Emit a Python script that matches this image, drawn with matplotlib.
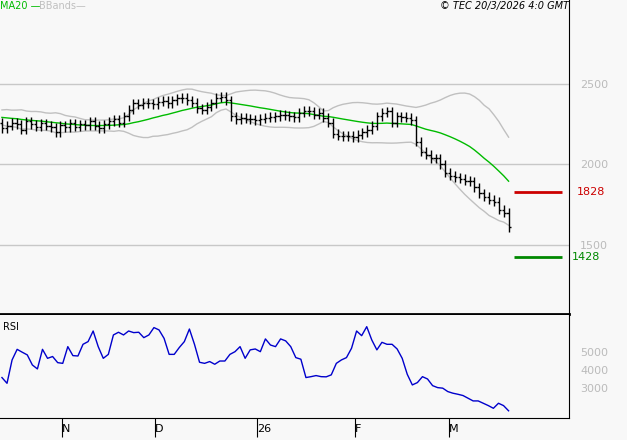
import numpy as np
import matplotlib
matplotlib.use("Agg")
import matplotlib.pyplot as plt

warmup = [2300,2320,2290,2310,2330,2305,2280,2295,2315,2290,2270,2300,2320,2295,2280,2300,2290,2275,2260]
closes = [2225,2240,2260,2250,2215,2270,2250,2235,2255,2240,2230,2200,
          2245,2230,2255,2235,2250,2245,2270,2240,2225,2250,2270,2280,2260,2300,2340,2380,2370,2385,2380,
          2375,2390,2395,2380,2400,2410,2415,2400,2385,2350,2340,2360,2380,2415,2420,2400,2300,2280,2290,2285,2280,
          2275,2285,2290,2295,2300,2310,2305,2300,2295,2320,2335,2330,2310,2320,2290,2260,2190,2180,2175,2180,
          2170,2185,2200,2215,2240,2300,2320,2330,2260,2300,2295,2290,2275,2140,2080,2060,2040,2040,2000,
          1950,1930,1920,1910,1900,1895,1860,1820,1800,1780,1770,1720,1700,1610]
rsi = [35.8,32.6,45.6,51.5,49.9,48.4,42.8,40.6,51.5,46.5,47.5,44.1,43.7,53,48,47.8,54.3,55.8,61.7,53,
       46.5,48.7,59.5,61,59.5,61.7,60.8,61,58,59.5,63.6,62.3,57.6,48.7,48.7,52.5,55.8,62.8,54.3,44.3,
       43.7,44.7,43.2,45,45,48.7,50.2,53,46.5,51.2,51.7,50.2,57.3,53.9,53,57.3,56.2,53,46.9,46,
       35.8,36.3,36.9,36.3,36.2,37.3,43.7,45.6,46.9,52.1,61.7,59.1,64.1,56.7,51.2,55.4,54.3,54.3,51.7,46.5,
       37.6,31.7,33,36.3,35,31.3,30.2,29.9,28,27.1,26.5,25.8,24.3,22.8,22.8,21.5,20.2,18.7,21.5,20.2,17.3]
month_pos = [12.3, 31.4, 52.4, 72.5, 91.8]
month_lbl = ["N", "D", "26", "F", "M"]
price_ticks = [1500, 2000, 2500]
rsi_ticks = [30, 40, 50]
levels = [1828, 1428]
level_colors = ["#cc0000", "#008800"]

allc = np.array(warmup + closes, float)
n0 = len(warmup)
ma = np.array([allc[i-19:i+1].mean() for i in range(n0, len(allc))])
sd = np.array([allc[i-19:i+1].std() for i in range(n0, len(allc))])
up, lo = ma + 2*sd, ma - 2*sd
c = np.array(closes, float)
o = allc[n0-1:-1]
hi = np.maximum(o, c) + 28; lw = np.minimum(o, c) - 28
x = np.arange(len(c))

bg = "#f8f8f8"
fig = plt.figure(figsize=(6.27, 4.4), dpi=100, facecolor=bg)
W, H = 627, 440
ax = fig.add_axes([0, 1-314/H, 569/W, 314/H], facecolor=bg)
ax2 = fig.add_axes([0, 1-418/H, 569/W, 103/H], facecolor=bg)
xl = (-0.4, 116.4)
for p in price_ticks:
    ax.axhline(p, color="#c8c8c8", lw=1)
ax.plot(x, up, color="#c0c0c0", lw=1)
ax.plot(x, lo, color="#c0c0c0", lw=1)
ax.plot(x, ma, color="#00bb00", lw=1)
ax.vlines(x, lw, hi, color="black", lw=1)
ax.hlines(o, x-0.45, x, color="black", lw=1)
ax.hlines(c, x, x+0.45, color="black", lw=1)
for lv, col in zip(levels, level_colors):
    ax.hlines(lv, 105.2, 115, color=col, lw=2)
ax.set_xlim(*xl); ax.set_ylim(1071, 3022)
ax.set_xticks([]); ax.yaxis.tick_right()
ax.set_yticks(price_ticks); ax.set_yticklabels([str(p) for p in price_ticks], color="#bbbbbb", fontsize=8)
ax.tick_params(axis="y", length=0, pad=8)
ax.text(118, levels[0], "1828", color=level_colors[0], fontsize=8, va="center", clip_on=False)
ax.text(117, levels[1], "1428", color=level_colors[1], fontsize=8, va="center", clip_on=False)
ax.text(0.0, 0.997, "MA20 —", transform=ax.transAxes, color="#00bb00", fontsize=7, va="top")
ax.text(0.068, 0.997, "BBands—", transform=ax.transAxes, color="#c0c0c0", fontsize=7, va="top")
ax.text(1.0, 0.997, "© TEC 20/3/2026 4:0 GMT", transform=ax.transAxes, fontsize=7, va="top", ha="right", style="italic")
for a in (ax, ax2):
    for s in ("top", "left"):
        a.spines[s].set_visible(False)
ax.spines["bottom"].set_linewidth(2)

ax2.plot(np.linspace(0, len(c)-1, len(rsi)), rsi, color="#0000cc", lw=1)
ax2.set_xlim(*xl); ax2.set_ylim(13.3, 70.6)
ax2.yaxis.tick_right()
ax2.set_yticks(rsi_ticks); ax2.set_yticklabels([f"{t}00" for t in rsi_ticks], color="#bbbbbb", fontsize=8)
ax2.tick_params(axis="y", length=0, pad=8)
ax2.set_xticks(month_pos); ax2.set_xticklabels(month_lbl, fontsize=8, ha="left")
ax2.tick_params(axis="x", length=14, direction="out", pad=-10)
ax2.text(0.005, 0.93, "RSI", transform=ax2.transAxes, fontsize=7, va="top")
fig.savefig("out.png", dpi=100, facecolor=bg)
